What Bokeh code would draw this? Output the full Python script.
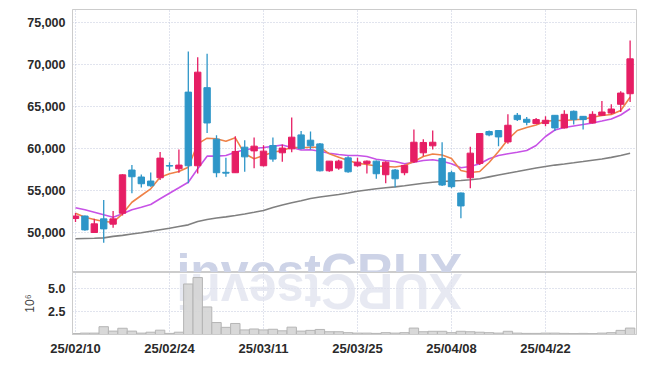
import math
from bokeh.plotting import figure
from bokeh.models import ColumnDataSource, FixedTicker, NumeralTickFormatter, Range1d, Label
from bokeh.layouts import column
from bokeh.embed import file_html
from bokeh.resources import INLINE

# ---- data ----
opens = [51700, 52000, 50040, 51660, 51030, 52330, 57470, 56640, 56160, 56550,
         58000, 57620, 66740, 57980, 67270, 61140, 57200, 57150, 60190, 59750,
         57980, 60390, 59520, 59990, 61650, 61020, 60580, 57380, 57700, 58920,
         57980, 58260, 58530, 56910, 57470, 57150, 58450, 59520, 60350, 58850,
         57150, 54740, 56550, 58260, 62050, 62170, 60820, 63980, 63510, 63000,
         63000, 63980, 62480, 64460, 63860, 63070, 63980, 64250, 65290, 66550]
highs = [52370, 52050, 51660, 53900, 52600, 56960, 58060, 56950, 57190, 59630,
         58410, 59920, 71570, 70890, 71300, 61610, 58920, 61490, 61020, 61340,
         60430, 61340, 60510, 63710, 62120, 62050, 60700, 58530, 58700, 59120,
         58920, 58610, 58600, 58530, 57600, 58100, 62290, 61140, 62170, 60780,
         57380, 54800, 60230, 61810, 62170, 62200, 64100, 64250, 63780, 63660,
         63860, 64000, 64580, 64550, 63900, 64460, 65680, 65290, 66830, 72870]
lows = [51300, 50240, 50040, 48820, 50590, 52060, 54700, 55400, 55490, 56280,
        57380, 57150, 55890, 57070, 61890, 56600, 56670, 57150, 57260, 57670,
        57900, 58450, 58450, 59600, 59920, 59920, 57300, 57260, 57500, 57150,
        57860, 57070, 56430, 55890, 55420, 56840, 58300, 59120, 59920, 55570,
        55300, 51740, 55300, 58060, 61490, 60310, 60600, 63310, 62800, 62950,
        62680, 62120, 62400, 62880, 62290, 63000, 63900, 64100, 64370, 65560]
closes = [52000, 50350, 51070, 50470, 51660, 56900, 56670, 55840, 55600, 58890,
          57940, 58060, 57980, 69115, 63070, 57150, 57100, 59680, 59040, 60310,
          59720, 58770, 60080, 61380, 60040, 60350, 57380, 58530, 58530, 57260,
          58410, 58530, 57030, 58410, 56430, 58020, 60780, 60750, 60780, 55690,
          55490, 53200, 59480, 61810, 61650, 61410, 62800, 63470, 63150, 63470,
          63390, 62480, 64100, 63470, 63470, 64100, 64370, 64730, 66630, 70700]
ma5 = [52330, 51860, 51580, 51350, 51260, 52260, 53640, 54440, 55240, 56620,
       57020, 57300, 57810, 60590, 61260, 61190, 60900, 61300, 59400, 58810,
       59200, 59590, 59790, 60190, 60120, 60190, 60190, 59400, 59000, 58600,
       58280, 58130, 57950, 57890, 57830, 58010, 58490, 59080, 59380, 59260,
       58840, 57410, 57180, 57300, 58370, 59670, 61100, 62170, 62530, 62830,
       63280, 63360, 63360, 63450, 63520, 63760, 63960, 64080, 64550, 66140]
ma20 = [52980, 52740, 52450, 52140, 51860, 52260, 52740, 53050, 53370, 54050,
        54710, 55360, 56020, 57620, 59120, 59120, 59200, 59590, 59880, 60030,
        60150, 60290, 60450, 60150, 59850, 59880, 59710, 59470, 59320, 59200,
        59200, 59080, 58760, 58600, 58490, 58210, 58400, 58600, 58690, 58520,
        58210, 57740, 57890, 58210, 58810, 59200, 59400, 59590, 59790, 60390,
        61460, 62230, 62530, 62710, 62890, 63070, 63300, 63540, 64020, 64760]
ma60 = [49290, 49320, 49350, 49400, 49580, 49700, 49860, 50010, 50190, 50370,
        50550, 50750, 50950, 51340, 51580, 51760, 51900, 52060, 52240, 52440,
        52650, 53010, 53310, 53570, 53810, 54080, 54260, 54410, 54560, 54740,
        54940, 55090, 55240, 55360, 55470, 55600, 55750, 55900, 56020, 56100,
        56160, 56220, 56310, 56440, 56660, 56880, 57090, 57290, 57510, 57710,
        57890, 58060, 58190, 58330, 58480, 58640, 58780, 58980, 59200, 59470]
volume_m = [0.10, 0.15, 0.15, 0.85, 0.37, 0.68, 0.37, 0.15, 0.25, 0.47,
            0.12, 0.25, 5.50, 6.20, 3.00, 1.30, 0.78, 1.20, 0.50, 0.60,
            0.50, 0.57, 0.40, 0.80, 0.37, 0.45, 0.55, 0.30, 0.30, 0.20,
            0.15, 0.15, 0.12, 0.20, 0.15, 0.20, 0.70, 0.30, 0.35, 0.35,
            0.20, 0.35, 0.30, 0.25, 0.20, 0.15, 0.35, 0.15, 0.12, 0.12,
            0.15, 0.15, 0.12, 0.10, 0.12, 0.10, 0.15, 0.20, 0.45, 0.70]
tick_idx = [0, 10, 20, 30, 40, 50]
tick_labels = ["25/02/10", "25/02/24", "25/03/11", "25/03/25", "25/04/08", "25/04/22"]
price_ticks = [50000, 55000, 60000, 65000, 70000, 75000]
volume_ticks = [2.5, 5.0]
watermark = "investCRUX"

UP = "#e61e64"
DOWN = "#2e96c8"
GRID = "#c3c8dc"
FONT = "Liberation Sans"

idx = list(range(len(closes)))
colors = [UP if c >= o else DOWN for o, c in zip(opens, closes)]
src = ColumnDataSource(dict(x=idx, o=opens, h=highs, l=lows, c=closes, col=colors,
                            ma5=ma5, ma20=ma20, ma60=ma60, vol=volume_m))

xr = Range1d(-0.32, 59.68)

p = figure(width=637, height=272, x_range=xr, y_range=Range1d(45280, 76570),
           output_backend="svg", toolbar_location=None,
           min_border_left=72, min_border_right=1, min_border_top=9, min_border_bottom=0)
p.outline_line_color = "#cccccc"
p.xaxis.visible = False
p.xgrid.ticker = FixedTicker(ticks=tick_idx)
p.xgrid.grid_line_color = GRID
p.xgrid.grid_line_dash = "1 2"
p.ygrid.grid_line_color = GRID
p.ygrid.grid_line_dash = "1 2"
p.yaxis.ticker = FixedTicker(ticks=price_ticks)
p.yaxis.formatter = NumeralTickFormatter(format="0,0")
p.yaxis.axis_line_color = "#cccccc"
p.yaxis.major_tick_line_color = None
p.yaxis.minor_tick_line_color = None
p.yaxis.major_tick_out = 0
p.yaxis.major_label_standoff = 7
p.yaxis.major_label_text_font = FONT
p.yaxis.major_label_text_font_size = "12.5px"
p.yaxis.major_label_text_font_style = "bold"
p.yaxis.major_label_text_color = "#2a2a2a"

wm = Label(x=25.96, y=45330, text=watermark, text_font=FONT,
           text_font_style="bold", text_font_size="50px", text_color="#cdd3e7",
           text_baseline="alphabetic", text_align="center", level="underlay")
p.add_layout(wm)

p.line("x", "ma60", source=src, line_color="#808080", line_width=1.6)
p.line("x", "ma20", source=src, line_color="#c752e6", line_width=1.6)
p.line("x", "ma5", source=src, line_color="#ef8248", line_width=1.6)
p.segment(x0="x", y0="h", x1="x", y1="l", source=src, line_color="col", line_width=1.3)
p.vbar(x="x", width=0.68, top="o", bottom="c", source=src, fill_color="col", line_color="col")

v = figure(width=637, height=86, x_range=xr, y_range=Range1d(0, 6.75),
           output_backend="svg", toolbar_location=None,
           min_border_left=72, min_border_right=1, min_border_top=0, min_border_bottom=20)
v.outline_line_color = "#cccccc"
v.xaxis.ticker = FixedTicker(ticks=tick_idx)
v.xaxis.major_label_overrides = {i: t for i, t in zip(tick_idx, tick_labels)}
v.xaxis.axis_line_color = "#cccccc"
v.xaxis.major_tick_line_color = None
v.xaxis.minor_tick_line_color = None
v.xaxis.major_tick_out = 0
v.xaxis.major_label_standoff = 6
v.xaxis.major_label_text_font = FONT
v.xaxis.major_label_text_font_size = "13px"
v.xaxis.major_label_text_font_style = "bold"
v.xaxis.major_label_text_color = "#2a2a2a"
v.yaxis.ticker = FixedTicker(ticks=volume_ticks)
v.yaxis.formatter = NumeralTickFormatter(format="0.0")
v.yaxis.axis_line_color = "#cccccc"
v.yaxis.major_tick_line_color = None
v.yaxis.minor_tick_line_color = None
v.yaxis.major_tick_out = 0
v.yaxis.major_label_standoff = 7
v.yaxis.major_label_text_font = FONT
v.yaxis.major_label_text_font_size = "12.5px"
v.yaxis.major_label_text_font_style = "bold"
v.yaxis.major_label_text_color = "#2a2a2a"
v.yaxis.axis_label = "10⁶"
v.yaxis.axis_label_text_font = FONT
v.yaxis.axis_label_text_font_style = "normal"
v.yaxis.axis_label_text_font_size = "12px"
v.yaxis.axis_label_standoff = 8
v.xgrid.ticker = FixedTicker(ticks=tick_idx)
v.xgrid.grid_line_color = GRID
v.xgrid.grid_line_dash = "1 2"
v.ygrid.grid_line_color = GRID
v.ygrid.grid_line_dash = "1 2"

# mirrored watermark (rotated about its own centre)
refl = Label(x=25.96, y=4.75, text=watermark[::-1], angle=math.pi,
             text_font=FONT, text_font_style="bold",
             text_font_size="50px", text_color="#dfe2ee", text_alpha=0.75,
             text_baseline="middle", text_align="center", level="underlay")
v.add_layout(refl)

v.vbar(x="x", width=1.0, top="vol", bottom=0, source=src,
       fill_color="#d4d4d4", fill_alpha=0.9, line_color="#b5b5b5")

layout = column(p, v)
open("out.html", "w").write(file_html(layout, INLINE))
